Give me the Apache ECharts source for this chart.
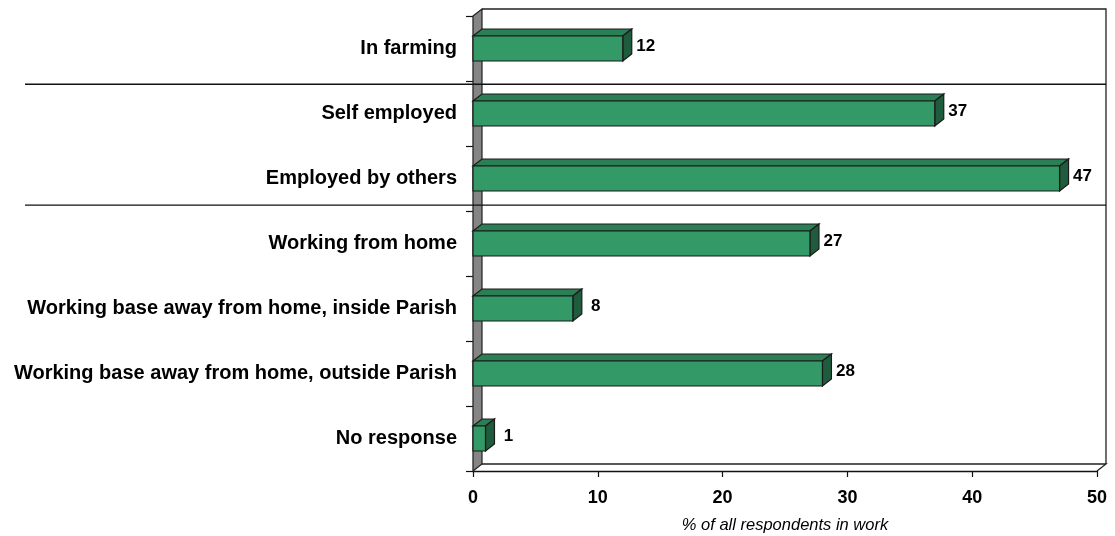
<!DOCTYPE html>
<html>
<head>
<meta charset="utf-8">
<script src="https://cdn.jsdelivr.net/npm/echarts@6/dist/echarts.min.js"></script>
<style>
  html, body { margin: 0; padding: 0; background: #ffffff; }
  #chart { width: 1115px; height: 536px; }
</style>
</head>
<body>
<div id="chart"></div>
<script>
// Work status of respondents (% of all respondents in work)
const categories = [
  'In farming',
  'Self employed',
  'Employed by others',
  'Working from home',
  'Working base away from home, inside Parish',
  'Working base away from home, outside Parish',
  'No response'
];
const values = [12, 37, 47, 27, 8, 28, 1];
const xTicks = [0, 10, 20, 30, 40, 50];
const axisTitle = '% of all respondents in work';
// group separators, in category units measured from the top of the plot
const separators = [1.05, 2.91];

const DX = 9, DY = 7;          // 3D depth offset
const FONT = 'Liberation Sans, Arial, sans-serif';
const FRONT = '#339966', TOP = '#2b7f55', SIDE = '#1f5b3d', EDGE = '#1b1b1b';

const chart = echarts.init(document.getElementById('chart'), null, { renderer: 'canvas' });

function renderFrame(params, api) {
  const cs = params.coordSys;
  const x0 = cs.x, y0 = cs.y, x1 = cs.x + cs.width, y1 = cs.y + cs.height;
  const band = cs.height / categories.length;
  const children = [
    // back wall outline (top and right edges)
    { type: 'polyline', shape: { points: [[x0 + DX, y0 - DY], [x1 + DX, y0 - DY], [x1 + DX, y1 - DY]] },
      style: { stroke: '#222', lineWidth: 1.3, fill: null } },
    // floor
    { type: 'polyline', shape: { points: [[x0 + DX, y1 - DY], [x1 + DX, y1 - DY], [x1, y1]] },
      style: { stroke: '#222', lineWidth: 1.3, fill: null } },
    // side wall
    { type: 'polygon', shape: { points: [[x0, y0], [x0 + DX, y0 - DY], [x0 + DX, y1 - DY], [x0, y1]] },
      style: { fill: '#858585', stroke: '#222', lineWidth: 1.2 } }
  ];
  separators.forEach(function (s) {
    const y = y0 + s * band;
    children.push({ type: 'line', shape: { x1: 25, y1: y, x2: x1 + DX, y2: y },
      style: { stroke: '#111', lineWidth: 1.3 } });
  });
  return { type: 'group', children: children };
}

function renderBar(params, api) {
  const idx = api.value(0);
  const val = api.value(1);
  const start = api.coord([0, idx]);
  const end = api.coord([val, idx]);
  const bandH = api.size([0, 1])[1];
  const h = bandH * 0.385;
  const xa = start[0], xb = end[0];
  const yt = start[1] - h / 2, yb = start[1] + h / 2;
  return {
    type: 'group',
    children: [
      { type: 'polygon', shape: { points: [[xa, yt], [xa + DX, yt - DY], [xb + DX, yt - DY], [xb, yt]] },
        style: { fill: TOP, stroke: EDGE, lineWidth: 1.2 } },
      { type: 'polygon', shape: { points: [[xb, yt], [xb + DX, yt - DY], [xb + DX, yb - DY], [xb, yb]] },
        style: { fill: SIDE, stroke: EDGE, lineWidth: 1.2 } },
      { type: 'rect', shape: { x: xa, y: yt, width: xb - xa, height: h },
        style: { fill: FRONT, stroke: EDGE, lineWidth: 1.2 } },
      { type: 'text', x: xb + DX + 14, y: start[1] - DY / 2 + 1.5,
        style: { text: String(val), fill: '#000', font: 'bold 17px ' + FONT,
                 textAlign: 'center', textVerticalAlign: 'middle' } }
    ]
  };
}

const option = {
  backgroundColor: '#ffffff',
  animation: false,
  grid: { left: 473, right: 18, top: 16, bottom: 65, containLabel: false, outerBoundsMode: 'none' },
  xAxis: {
    type: 'value',
    min: xTicks[0],
    max: xTicks[xTicks.length - 1],
    interval: xTicks[1] - xTicks[0],
    splitLine: { show: false },
    axisLine: { show: true, lineStyle: { color: '#111', width: 1.3 } },
    axisTick: { show: true, length: 6, lineStyle: { color: '#111', width: 1.2 } },
    axisLabel: { color: '#000', fontFamily: FONT, fontWeight: 'bold', fontSize: 18, margin: 18 },
    name: axisTitle,
    nameLocation: 'middle',
    nameGap: 46,
    nameTextStyle: { color: '#000', fontFamily: FONT, fontStyle: 'italic', fontSize: 16.5, padding: [0, 0, 0, 0] }
  },
  yAxis: {
    type: 'category',
    data: categories,
    inverse: true,
    axisLine: { show: true, lineStyle: { color: '#222', width: 1.2 } },
    axisTick: { show: true, length: 7, alignWithLabel: false, lineStyle: { color: '#111', width: 1.2 } },
    axisLabel: { color: '#000', fontFamily: FONT, fontWeight: 'bold', fontSize: 20, margin: 16 },
    splitLine: { show: false }
  },
  series: [
    {
      type: 'custom',
      name: 'frame',
      renderItem: renderFrame,
      data: [[0, 0]],
      silent: true,
      z: 1
    },
    {
      type: 'custom',
      name: 'share',
      renderItem: renderBar,
      data: values.map(function (v, i) { return [i, v]; }),
      encode: { x: 1, y: 0 },
      z: 3
    }
  ]
};
chart.setOption(option);
</script>
</body>
</html>
